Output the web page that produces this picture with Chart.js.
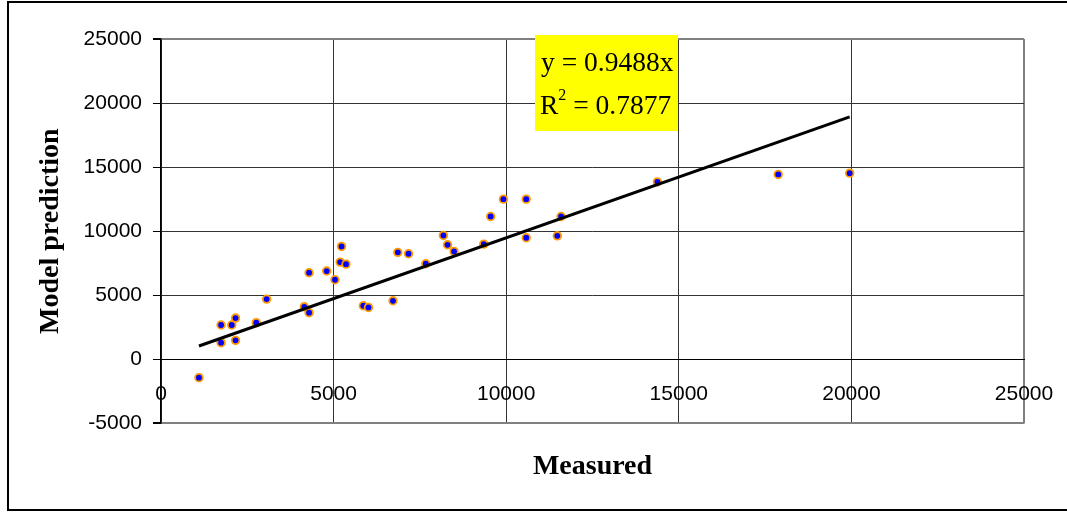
<!DOCTYPE html>
<html>
<head>
<meta charset="utf-8">
<script src="https://cdn.jsdelivr.net/npm/chart.js@4"></script>
<style>
  html, body { margin: 0; padding: 0; background: #fff; }
  #wrap { width: 1067px; height: 512px; }
</style>
</head>
<body>
<div id="wrap"><canvas id="chart" width="1067" height="512"></canvas></div>
<script>
// --- Daten ---
const measured  = [1100, 1740, 1740, 2050, 2160, 2160, 2760, 3060, 4150, 4290, 4290, 4800, 5040, 5190, 5230, 5360, 5860, 6010, 6720, 6860, 7170, 7670, 8180, 8300, 8490, 9350, 9550, 9920, 10580, 10580, 11480, 11590, 14380, 17880, 19950];
const predicted = [-1430, 2680, 1300, 2680, 3220, 1480, 2860, 4700, 4100, 3640, 6760, 6890, 6210, 7590, 8810, 7430, 4180, 4050, 4570, 8350, 8240, 7460, 9670, 8940, 8420, 8990, 11150, 12500, 12500, 9490, 9640, 11150, 13850, 14430, 14530];
const xTicks = [0, 5000, 10000, 15000, 20000, 25000];
const yTicks = [-5000, 0, 5000, 10000, 15000, 20000, 25000];
const slope = 0.9488;
const rSquared = 0.7877;

const points = measured.map((m, i) => ({ x: m, y: predicted[i] }));
const xLo = Math.min(...measured), xHi = Math.max(...measured);
const trend = [{ x: xLo, y: slope * xLo }, { x: xHi, y: slope * xHi }];

Chart.defaults.font.family = 'Liberation Sans';
Chart.defaults.color = '#000';

// Rahmen + gelbe Gleichungsbox
const decor = {
    id: 'decor',
    beforeDraw(chart) {
        const c = chart.ctx;
        c.save();
        c.fillStyle = '#fff';
        c.fillRect(0, 0, chart.width, chart.height);
        c.restore();
    },
    afterDraw(chart) {
        const c = chart.ctx;
        const a = chart.chartArea;
        c.save();
        c.strokeStyle = '#000';
        c.lineWidth = 2;
        c.strokeRect(8, 2, chart.width + 10, chart.height - 4);

        // Box relativ zum Plotbereich
        const bx = a.left + 374, by = a.top - 4, bw = 143, bh = 96;
        c.fillStyle = '#ffff00';
        c.fillRect(bx, by, bw, bh);
        c.fillStyle = '#000';
        c.textBaseline = 'alphabetic';
        c.font = '27.5px "Liberation Serif"';
        c.fillText('y = ' + slope + 'x', bx + 6, by + 36);
        let tx = bx + 5;
        c.fillText('R', tx, by + 79);
        tx += c.measureText('R').width;
        c.font = '16px "Liberation Serif"';
        c.fillText('2', tx, by + 65);
        tx += c.measureText('2').width;
        c.font = '27.5px "Liberation Serif"';
        c.fillText(' = ' + rSquared, tx, by + 79);
        c.restore();
    }
};

const gridColor = (edgeVals, zeroBlack) => ctx => {
    const v = ctx.tick && ctx.tick.value;
    if (zeroBlack && v === 0) return '#000';
    return edgeVals.includes(v) ? '#808080' : '#333';
};
const gridWidth = edgeVals => ctx => {
    const v = ctx.tick && ctx.tick.value;
    return edgeVals.includes(v) ? 2 : 1;
};

new Chart(document.getElementById('chart'), {
    type: 'scatter',
    data: {
        datasets: [
            {
                type: 'line', data: trend, borderColor: '#000', borderWidth: 3,
                pointRadius: 0, fill: false, tension: 0
            },
            {
                data: points, backgroundColor: '#0000ff', borderColor: '#ff9900',
                borderWidth: 1.8, pointRadius: 3.8
            }
        ]
    },
    options: {
        responsive: false,
        animation: false,
        devicePixelRatio: 1,
        layout: { padding: { left: 0, top: 39, right: 43, bottom: 28 } },
        plugins: {
            legend: { display: false },
            tooltip: { enabled: false },
            title: {
                display: true, position: 'bottom', fullSize: false, text: 'Measured', color: '#000',
                font: { family: 'Liberation Serif', size: 28, weight: 'bold' },
                padding: { top: 27, bottom: 0 }
            }
        },
        scales: {
            x: {
                type: 'linear', axis: 'x', position: { y: 0 },
                min: xTicks[0], max: xTicks[xTicks.length - 1],
                afterBuildTicks: s => { s.ticks = xTicks.map(v => ({ value: v })); },
                afterFit: s => { s.paddingLeft = 0; s.paddingRight = 0; },
                ticks: { font: { size: 21 }, color: '#000', padding: 22, maxRotation: 0, callback: v => String(v) },
                grid: { drawTicks: false, color: gridColor([25000], false), lineWidth: gridWidth([25000]) },
                border: { display: true, color: '#000', width: 1 }
            },
            y: {
                type: 'linear', position: 'left',
                min: yTicks[0], max: yTicks[yTicks.length - 1],
                afterBuildTicks: s => { s.ticks = yTicks.map(v => ({ value: v })); },
                afterFit: s => { s.width = 161; s.paddingTop = 0; s.paddingBottom = 0; },
                ticks: { font: { size: 21 }, color: '#000', padding: 11, callback: v => String(v) },
                grid: { tickLength: 8, tickColor: '#000', color: gridColor([25000, -5000], true), lineWidth: gridWidth([25000, -5000]) },
                border: { display: true, color: '#000', width: 1.5 },
                title: {
                    display: true, text: 'Model prediction', color: '#000',
                    font: { family: 'Liberation Serif', size: 28, weight: 'bold' },
                    padding: { top: 34, bottom: 0 }
                }
            }
        }
    },
    plugins: [decor]
});
</script>
</body>
</html>
